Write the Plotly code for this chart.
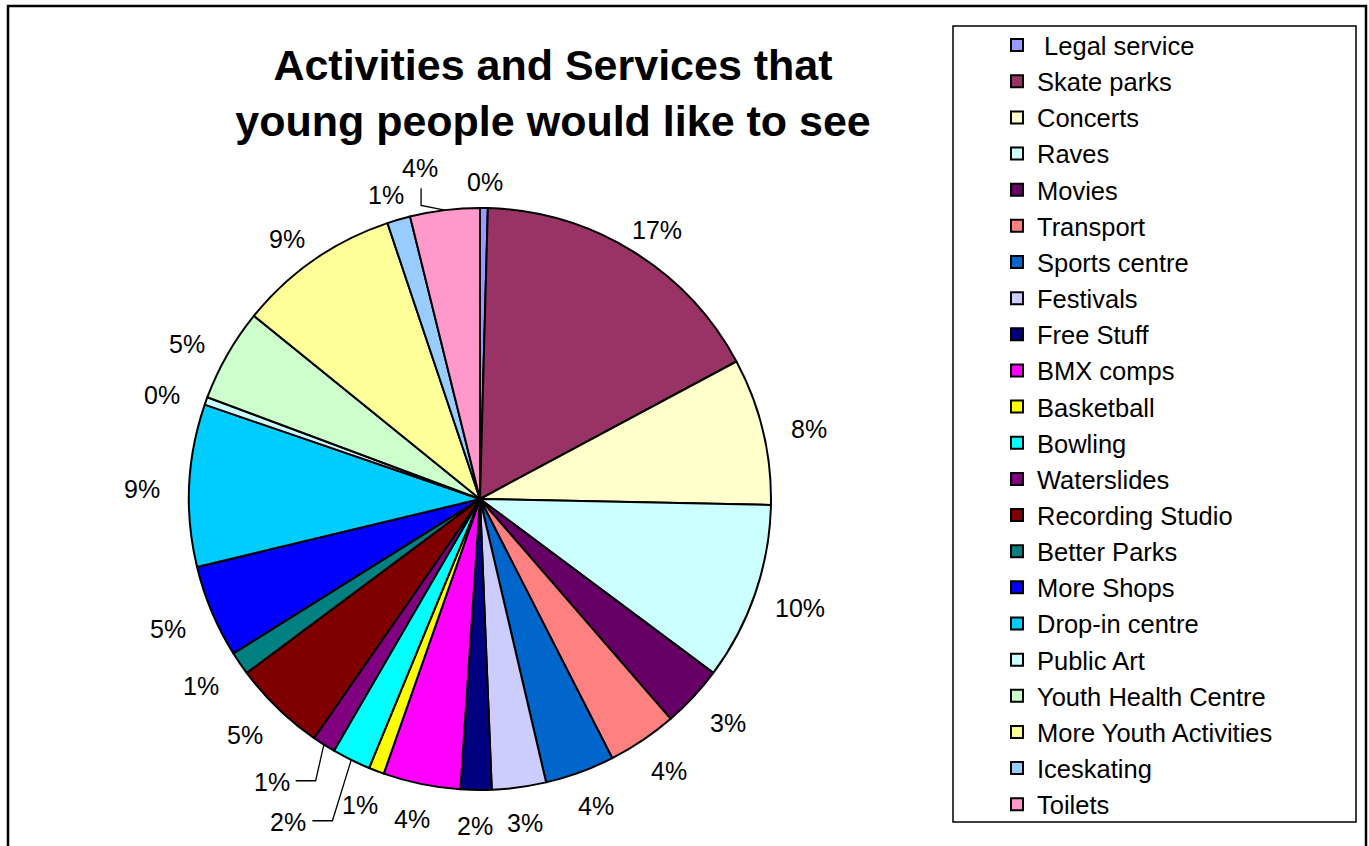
import math
import plotly.graph_objects as go

# Survey responses per activity / service
categories = [
    " Legal service", "Skate parks", "Concerts", "Raves", "Movies", "Transport",
    "Sports centre", "Festivals", "Free Stuff", "BMX comps", "Basketball",
    "Bowling", "Waterslides", "Recording Studio", "Better Parks", "More Shops",
    "Drop-in centre", "Public Art", "Youth Health Centre",
    "More Youth Activities", "Iceskating", "Toilets",
]
responses = [1, 39, 19, 23, 8, 9, 9, 7, 4, 10, 2, 5, 3, 12, 3, 12, 21, 1, 12, 21, 3, 9]
colors = [
    "#9999FF", "#993366", "#FFFFCC", "#CCFFFF", "#660066", "#FF8080",
    "#0066CC", "#CCCCFF", "#000080", "#FF00FF", "#FFFF00", "#00FFFF",
    "#800080", "#800000", "#008080", "#0000FF", "#00CCFF", "#CCFFFF",
    "#CCFFCC", "#FFFF99", "#99CCFF", "#FF99CC",
]

W, H = 1369, 846
FONT = "Arial, Liberation Sans, sans-serif"

# Pie placement in pixels
CX, CY, R = 480, 499, 291
# Label ellipse radii and vertical shift
RX_LAB, RY_LAB, DY_LAB = 338, 322, 5

# Labels that are pushed away from their slice and tied back with a leader line
label_nudge = {"Toilets": (-19, -16), "Waterslides": (-27, 6), "Bowling": (-42, 29)}
leader_style = {"Toilets": "up", "Waterslides": "left", "Bowling": "left"}


def px_to_paper(x, y):
    return x / W, 1 - y / H


fig = go.Figure()
fig.add_trace(go.Pie(
    labels=categories,
    values=responses,
    sort=False,
    direction="clockwise",
    rotation=0,
    marker=dict(colors=colors, line=dict(color="black", width=2)),
    textinfo="none",
    hoverinfo="label+percent",
    domain=dict(x=[(CX - R) / W, (CX + R) / W], y=[1 - (CY + R) / H, 1 - (CY - R) / H]),
    showlegend=True,
))

total = sum(responses)
annotations = []
shapes = []
cum = 0
for name, v in zip(categories, responses):
    mid = (cum + v / 2) / total * 2 * math.pi
    cum += v
    ux, uy = math.sin(mid), -math.cos(mid)
    lx = CX + RX_LAB * ux
    ly = CY + RY_LAB * uy + DY_LAB
    key = name.strip()
    if key in label_nudge:
        dx, dy = label_nudge[key]
        lx += dx
        ly += dy
        ex, ey = CX + R * ux, CY + R * uy
        if leader_style[key] == "up":
            pts = [(lx + 1, ly + 20), (lx + 1, ly + 37), (ex, ey)]
        else:
            pts = [(lx + 24, ly - 1), (lx + 44, ly - 1), (ex, ey)]
        path = "M " + " L ".join(f"{px_to_paper(a, b)[0]},{px_to_paper(a, b)[1]}" for a, b in pts)
        shapes.append(dict(type="path", xref="paper", yref="paper", path=path,
                           line=dict(color="black", width=1.3)))
    pct = int(v / total * 100 + 0.5)
    xp, yp = px_to_paper(lx, ly)
    annotations.append(dict(
        x=xp, y=yp, xref="paper", yref="paper", text=f"{pct}%", showarrow=False,
        xanchor="center", yanchor="middle", font=dict(family=FONT, size=25, color="black"),
    ))

# Legend frame and outer chart frame
shapes.append(dict(type="rect", xref="paper", yref="paper",
                   x0=953 / W, x1=1356 / W, y0=1 - 822 / H, y1=1 - 26 / H,
                   line=dict(color="black", width=1.5), fillcolor="rgba(0,0,0,0)"))
shapes.append(dict(type="rect", xref="paper", yref="paper",
                   x0=8 / W, x1=1366 / W, y0=-0.05, y1=1 - 6 / H,
                   line=dict(color="black", width=2.5), fillcolor="rgba(0,0,0,0)"))

fig.update_layout(
    width=W, height=H,
    margin=dict(l=0, r=0, t=0, b=0),
    paper_bgcolor="white",
    plot_bgcolor="white",
    title=dict(
        text="<b>Activities and Services that<br>young people would like to see</b>",
        x=553 / W, xanchor="center", y=1 - 80 / H, yanchor="top",
        font=dict(family=FONT, size=43, color="black"),
    ),
    legend=dict(
        x=997 / W, xanchor="left", y=1 - 22 / H, yanchor="top",
        font=dict(family=FONT, size=25.5, color="black"),
        borderwidth=0, bgcolor="rgba(0,0,0,0)",
        traceorder="normal",
    ),
    annotations=annotations,
    shapes=shapes,
)

fig.write_html("out.html")
